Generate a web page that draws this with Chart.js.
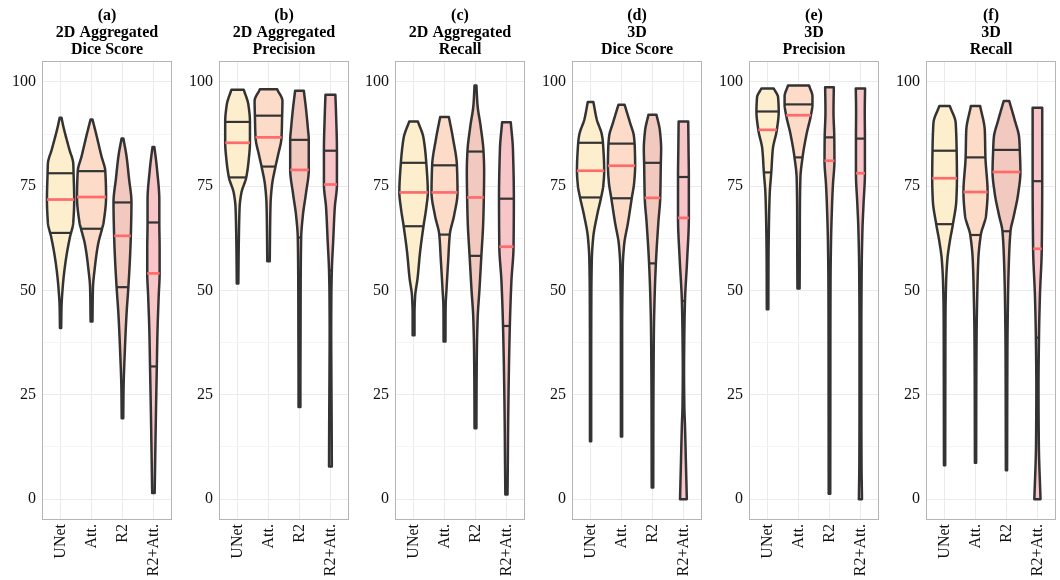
<!DOCTYPE html>
<html>
<head>
<meta charset="utf-8">
<title>Violin plots</title>
<script src="https://cdn.jsdelivr.net/npm/chart.js@4.4.1/dist/chart.umd.min.js"></script>
<style>
  html, body { margin: 0; padding: 0; background: #fff; }
  #wrap { position: relative; width: 1060px; height: 580px; overflow: hidden; }
  #wrap canvas { position: absolute; top: 0; }
</style>
</head>
<body>
<div id="wrap"></div>
<script>
// categories and panel titles
var categories = ['UNet', 'Att.', 'R2', 'R2+Att.'];
var panelTitles = [
  ['(a)', '2D Aggregated', 'Dice Score'],
  ['(b)', '2D Aggregated', 'Precision'],
  ['(c)', '2D Aggregated', 'Recall'],
  ['(d)', '3D', 'Dice Score'],
  ['(e)', '3D', 'Precision'],
  ['(f)', '3D', 'Recall'],
];
var yTicks = [0, 25, 50, 75, 100];
var yMinorTicks = [12.5, 37.5, 62.5, 87.5];

// quantiles per panel (rows) and model (columns)
var medians = [
  [71.8, 72.4, 63.1, 54.1],
  [85.4, 86.7, 78.9, 75.4],
  [73.5, 73.5, 72.3, 60.5],
  [78.7, 79.9, 72.2, 67.4],
  [88.5, 92.0, 81.1, 78.1],
  [76.9, 73.6, 78.4, 60.0],
];
var lowerQuartiles = [
  [63.8, 64.8, 50.8, 31.8],
  [77.1, 79.7, 62.7, 54.8],
  [65.4, 63.4, 58.3, 41.5],
  [72.3, 72.1, 56.5, 47.5],
  [78.3, 81.9, 52.4, 54.8],
  [65.9, 63.3, 64.2, 38.7],
];
var upperQuartiles = [
  [78.1, 78.6, 71.1, 66.3],
  [90.4, 91.9, 86.1, 83.5],
  [80.6, 80.0, 83.3, 72.0],
  [85.4, 85.2, 80.6, 77.2],
  [92.9, 94.6, 86.7, 86.4],
  [83.5, 81.9, 83.7, 76.2],
];

// violin outlines: [score, half width of the density] from min to max score
var densityA = [
  [[41, 0.02], [46, 0.03], [50.4, 0.065], [53.9, 0.11], [58.3, 0.19], [62.7, 0.30], [66.3, 0.41], [71.8, 0.44], [78.1, 0.42], [80.4, 0.41], [83.9, 0.28], [89.3, 0.09], [91.4, 0.03]],
  [[42.6, 0.03], [50.4, 0.045], [55.7, 0.11], [61, 0.21], [64.8, 0.34], [66.3, 0.39], [72.4, 0.47], [78.6, 0.445], [82.2, 0.32], [87.5, 0.15], [91, 0.03]],
  [[19.4, 0.025], [26.5, 0.035], [35.3, 0.075], [44.2, 0.13], [50.8, 0.19], [57.4, 0.24], [63.1, 0.27], [71.1, 0.29], [76.9, 0.21], [82.2, 0.13], [86.4, 0.03]],
  [[1.5, 0.04], [13.3, 0.065], [22.1, 0.085], [31.8, 0.11], [39.8, 0.13], [48.6, 0.17], [54.1, 0.2], [60, 0.2], [66.3, 0.19], [71.6, 0.19], [79.5, 0.11], [84.4, 0.03]],
];
var densityB = [
  [[51.7, 0.025], [55.7, 0.03], [61.8, 0.04], [69.8, 0.065], [73.3, 0.12], [77.1, 0.28], [81.3, 0.36], [85.4, 0.40], [90.4, 0.40], [94.5, 0.35], [98.1, 0.2]],
  [[57, 0.04], [64.5, 0.05], [70.7, 0.065], [75.1, 0.11], [79.7, 0.225], [82.2, 0.3], [86.7, 0.42], [91.9, 0.44], [95.4, 0.45], [98.2, 0.28]],
  [[22.1, 0.03], [26.5, 0.03], [39.8, 0.035], [53, 0.04], [62.7, 0.055], [68, 0.11], [73.3, 0.21], [78.9, 0.30], [86.1, 0.30], [89, 0.27], [93.6, 0.21], [97.9, 0.14]],
  [[7.8, 0.045], [17.7, 0.04], [30.9, 0.03], [39.8, 0.025], [48.6, 0.03], [54.8, 0.045], [62, 0.09], [69.8, 0.14], [75.4, 0.21], [83.5, 0.21], [92.8, 0.18], [96.9, 0.16]],
];
var densityC = [
  [[39.3, 0.03], [44.2, 0.03], [48.6, 0.05], [53, 0.13], [59.2, 0.21], [65.4, 0.32], [69.8, 0.41], [73.5, 0.46], [80.6, 0.41], [86.6, 0.32], [90.5, 0.14]],
  [[37.8, 0.03], [45.9, 0.035], [50.4, 0.065], [57.4, 0.12], [63.4, 0.17], [68, 0.31], [73.5, 0.42], [80, 0.40], [86.6, 0.27], [91.6, 0.14]],
  [[17, 0.03], [26.5, 0.035], [35.3, 0.045], [43.3, 0.07], [50.4, 0.13], [58.3, 0.19], [66.3, 0.25], [72.3, 0.27], [78.6, 0.28], [83.3, 0.26], [89.2, 0.17], [94.5, 0.065], [99.1, 0.03]],
  [[1.1, 0.035], [8.8, 0.045], [17.7, 0.055], [30.9, 0.08], [41.5, 0.11], [52.1, 0.16], [60.5, 0.23], [72, 0.24], [83.9, 0.21], [90.3, 0.14]],
];
var densityD = [
  [[13.9, 0.02], [30.9, 0.02], [48.6, 0.025], [57.4, 0.04], [62.7, 0.085], [68, 0.21], [72.3, 0.34], [75.1, 0.41], [78.7, 0.44], [85.4, 0.40], [87.5, 0.36], [91, 0.2], [95.2, 0.09]],
  [[15, 0.02], [39.8, 0.02], [55.7, 0.04], [61, 0.085], [66.3, 0.21], [72.1, 0.33], [76, 0.41], [79.9, 0.44], [84, 0.43], [87, 0.40], [90.1, 0.28], [94.5, 0.1]],
  [[2.8, 0.025], [22.1, 0.03], [39.8, 0.045], [48.6, 0.07], [56.5, 0.11], [66.3, 0.19], [72.2, 0.25], [80.6, 0.27], [83.9, 0.28], [88.3, 0.24], [92.1, 0.13]],
  [[0, 0.11], [8.8, 0.08], [17.7, 0.05], [22.1, 0.03], [30.9, 0.02], [39.8, 0.03], [47.5, 0.05], [57.4, 0.12], [67.4, 0.175], [77.2, 0.175], [83.9, 0.165], [90.5, 0.155]],
];
var densityE = [
  [[45.5, 0.025], [57.4, 0.03], [66.3, 0.045], [73.3, 0.07], [78.3, 0.12], [83.9, 0.17], [88.5, 0.3], [92.9, 0.36], [96.3, 0.34], [98.4, 0.2]],
  [[50.5, 0.035], [57.4, 0.04], [69.8, 0.045], [76.9, 0.06], [81.9, 0.13], [87.5, 0.26], [92, 0.40], [94.6, 0.45], [96.5, 0.45], [99.1, 0.34]],
  [[1.3, 0.025], [22.1, 0.028], [39.8, 0.03], [52.4, 0.035], [61.8, 0.05], [69.8, 0.08], [75.1, 0.11], [81.1, 0.16], [86.7, 0.155], [92.8, 0.13], [98.7, 0.14]],
  [[0, 0.05], [8.8, 0.035], [22.1, 0.03], [39.8, 0.03], [54.8, 0.04], [64.5, 0.065], [70.7, 0.1], [78.1, 0.145], [86.4, 0.145], [92.8, 0.14], [98.4, 0.15]],
];
var densityF = [
  [[8.1, 0.02], [30.9, 0.025], [44.2, 0.03], [52.1, 0.05], [57.4, 0.09], [61.8, 0.17], [65.9, 0.27], [71.6, 0.38], [76.9, 0.40], [83.5, 0.39], [90.1, 0.36], [94.2, 0.17]],
  [[8.7, 0.02], [26.5, 0.025], [39.8, 0.035], [48.6, 0.055], [57.4, 0.09], [63.3, 0.17], [68, 0.34], [73.6, 0.39], [81.9, 0.32], [88.3, 0.3], [94.2, 0.15]],
  [[6.9, 0.02], [35.3, 0.03], [48.6, 0.05], [57.4, 0.08], [64.2, 0.13], [68, 0.24], [73.3, 0.38], [78.4, 0.45], [83.7, 0.43], [86.6, 0.41], [91, 0.26], [95.4, 0.09]],
  [[0, 0.1], [13.3, 0.045], [26.5, 0.035], [38.7, 0.05], [48.6, 0.08], [60, 0.14], [76.2, 0.155], [93.8, 0.155]],
];
var densities = [densityA, densityB, densityC, densityD, densityE, densityF];

var fillColors = ['#fdefcd', '#fcdcc9', '#f2c9bf', '#f8c5c8'];
var serif = "'Liberation Serif', 'Times New Roman', serif";

// monotone cubic interpolation of the half width along the score axis
function monotone(pts) {
  var n = pts.length;
  var xs = pts.map(function (p) { return p[0]; });
  var ys = pts.map(function (p) { return p[1]; });
  var d = [], m = [];
  for (var k = 0; k < n - 1; k++) d.push((ys[k + 1] - ys[k]) / (xs[k + 1] - xs[k]));
  m[0] = d[0];
  m[n - 1] = d[n - 2];
  for (k = 1; k < n - 1; k++) {
    m[k] = d[k - 1] * d[k] <= 0 ? 0 : 2 / (1 / d[k - 1] + 1 / d[k]);
  }
  return function (x) {
    if (x <= xs[0]) return ys[0];
    if (x >= xs[n - 1]) return ys[n - 1];
    var i = 0;
    while (x > xs[i + 1]) i++;
    var h = xs[i + 1] - xs[i];
    var t = (x - xs[i]) / h;
    var t2 = t * t, t3 = t2 * t;
    var y = (2 * t3 - 3 * t2 + 1) * ys[i] + (t3 - 2 * t2 + t) * h * m[i] +
      (-2 * t3 + 3 * t2) * ys[i + 1] + (t3 - t2) * h * m[i + 1];
    return Math.max(y, 0.004);
  };
}

function violinPlugin(p) {
  return {
    id: 'violins',
    afterDatasetsDraw: function (chart) {
      var ctx = chart.ctx;
      var xs = chart.scales.x, ys = chart.scales.y;
      var area = chart.chartArea;
      ctx.save();
      ctx.beginPath();
      ctx.rect(area.left, area.top, area.right - area.left, area.bottom - area.top);
      ctx.clip();
      densities[p].forEach(function (prof, j) {
        var cx = j + 1;
        var hw = monotone(prof);
        var vmin = prof[0][0], vmax = prof[prof.length - 1][0];
        var left = [], right = [];
        for (var v = vmin; v < vmax; v += 0.25) {
          left.push([xs.getPixelForValue(cx - hw(v)), ys.getPixelForValue(v)]);
          right.push([xs.getPixelForValue(cx + hw(v)), ys.getPixelForValue(v)]);
        }
        left.push([xs.getPixelForValue(cx - hw(vmax)), ys.getPixelForValue(vmax)]);
        right.push([xs.getPixelForValue(cx + hw(vmax)), ys.getPixelForValue(vmax)]);

        ctx.beginPath();
        ctx.moveTo(left[0][0], left[0][1]);
        left.forEach(function (pt) { ctx.lineTo(pt[0], pt[1]); });
        for (var r = right.length - 1; r >= 0; r--) ctx.lineTo(right[r][0], right[r][1]);
        ctx.closePath();
        ctx.fillStyle = fillColors[j];
        ctx.fill();
        ctx.lineJoin = 'round';
        ctx.lineWidth = 2.5;
        ctx.strokeStyle = '#333333';
        ctx.stroke();

        // quartile and median segments
        var segs = [
          [lowerQuartiles[p][j], '#333333', 2.2],
          [upperQuartiles[p][j], '#333333', 2.2],
          [medians[p][j], '#ff6b6b', 2.7],
        ];
        segs.forEach(function (s) {
          var w = hw(s[0]);
          var py = ys.getPixelForValue(s[0]);
          ctx.beginPath();
          ctx.moveTo(xs.getPixelForValue(cx - w), py);
          ctx.lineTo(xs.getPixelForValue(cx + w), py);
          ctx.strokeStyle = s[1];
          ctx.lineWidth = s[2];
          ctx.stroke();
        });
      });
      ctx.restore();
    },
    afterDraw: function (chart) {
      var a = chart.chartArea;
      var ctx = chart.ctx;
      ctx.save();
      ctx.strokeStyle = '#b5b5b5';
      ctx.lineWidth = 1;
      ctx.strokeRect(a.left + 0.5, a.top + 0.5, a.right - a.left - 1, a.bottom - a.top - 1);
      ctx.restore();
    },
  };
}

var wrap = document.getElementById('wrap');
var yAxisWidth = 42;
var panelWidth = 130;
var panelStep = 176.7;

panelTitles.forEach(function (title, p) {
  var canvas = document.createElement('canvas');
  canvas.width = yAxisWidth + panelWidth + 6;
  canvas.height = 580;
  canvas.style.left = Math.round(p * panelStep) + 'px';
  wrap.appendChild(canvas);

  new Chart(canvas.getContext('2d'), {
    type: 'scatter',
    data: { datasets: [] },
    options: {
      responsive: false,
      animation: false,
      devicePixelRatio: 1,
      layout: { padding: { left: 0, right: 6, top: 0, bottom: 0 } },
      plugins: {
        legend: { display: false },
        tooltip: { enabled: false },
        title: {
          display: true,
          fullSize: false,
          text: title,
          color: '#000',
          font: { family: serif, size: 16, weight: 'bold', lineHeight: 1.05 },
          padding: { top: 7.6, bottom: 3 },
        },
      },
      scales: {
        x: {
          type: 'linear',
          min: 0.4,
          max: 4.6,
          afterBuildTicks: function (s) {
            s.ticks = categories.map(function (c, j) { return { value: j + 1 }; });
          },
          afterFit: function (s) { s.height = 60; },
          ticks: {
            autoSkip: false,
            minRotation: 90,
            maxRotation: 90,
            padding: 4,
            color: '#111',
            font: { family: serif, size: 16 },
            callback: function (v) { return categories[v - 1]; },
          },
          grid: { color: '#ebebeb', lineWidth: 1, drawTicks: false },
          border: { display: false },
        },
        y: {
          min: -5,
          max: 105,
          afterBuildTicks: function (s) {
            s.ticks = yTicks.concat(yMinorTicks).sort(function (a, b) { return a - b; })
              .map(function (v) { return { value: v }; });
          },
          afterFit: function (s) { s.width = yAxisWidth; },
          ticks: {
            padding: 6,
            color: '#111',
            font: { family: serif, size: 16 },
            callback: function (v) { return yTicks.indexOf(v) >= 0 ? String(v) : ''; },
          },
          grid: {
            color: function (c) { return yTicks.indexOf(c.tick.value) >= 0 ? '#ebebeb' : '#f2f2f2'; },
            lineWidth: function (c) { return yTicks.indexOf(c.tick.value) >= 0 ? 1 : 0.8; },
            drawTicks: false,
          },
          border: { display: false },
        },
      },
    },
    plugins: [violinPlugin(p)],
  });
});
</script>
</body>
</html>
